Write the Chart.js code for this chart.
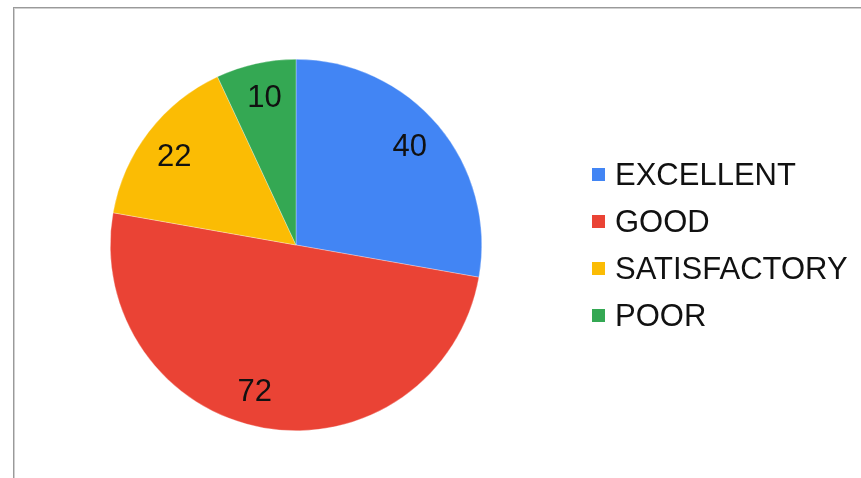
<!DOCTYPE html>
<html>
<head>
<meta charset="utf-8">
<script src="https://cdn.jsdelivr.net/npm/chart.js@4/dist/chart.umd.min.js"></script>
<style>
  html, body { margin: 0; padding: 0; background: #fff; width: 861px; height: 478px; overflow: hidden; }
  #frame { position: absolute; left: 13px; top: 7px; width: 900px; height: 520px; border-left: 1px solid #9a9a9a; border-top: 1px solid #9a9a9a; box-shadow: inset 1px 1px 0 #d0d0d0; }
  #wrap { position: absolute; left: 0; top: 0; width: 861px; height: 478px; }
  #legend { position: absolute; left: 592px; top: 151px; font-family: "Liberation Sans", Arial, sans-serif; font-size: 31px; color: #111; }
  .row { height: 47px; display: flex; align-items: center; white-space: nowrap; }
  .sw { width: 13px; height: 13px; margin-right: 10px; flex: none; }
</style>
</head>
<body>
<div id="frame"></div>
<div id="wrap"><canvas id="c" width="861" height="478"></canvas></div>
<div id="legend"></div>
<script>
const categories = ["EXCELLENT", "GOOD", "SATISFACTORY", "POOR"];
const values = [40, 72, 22, 10];
const colors = ["#4285F4", "#EA4335", "#FBBC04", "#34A853"];
// small angular nudge (degrees) of each value label, styling only
const labelNudge = [-1.3, 5.8, -1.1, 0.5];

const sliceLabels = {
  id: 'sliceLabels',
  afterDatasetsDraw(chart) {
    const ctx = chart.ctx;
    const meta = chart.getDatasetMeta(0);
    ctx.save();
    ctx.font = '31px "Liberation Sans", Arial, sans-serif';
    ctx.fillStyle = '#111';
    ctx.textAlign = 'center';
    ctx.textBaseline = 'middle';
    meta.data.forEach((arc, i) => {
      const p = arc.getProps(['x', 'y', 'startAngle', 'endAngle', 'outerRadius'], true);
      const mid = (p.startAngle + p.endAngle) / 2 + labelNudge[i] * Math.PI / 180;
      const d = p.outerRadius * 0.815;
      ctx.fillText(String(chart.data.datasets[0].data[i]), p.x + Math.cos(mid) * d, p.y + Math.sin(mid) * d + 2);
    });
    ctx.restore();
  }
};

new Chart(document.getElementById('c'), {
  type: 'pie',
  data: {
    labels: categories,
    datasets: [{
      data: values,
      backgroundColor: colors,
      borderColor: 'rgba(255,255,255,0.6)',
      borderWidth: 0.5,
      hoverOffset: 0
    }]
  },
  options: {
    responsive: false,
    animation: false,
    layout: { padding: { left: 110, top: 59, right: 379, bottom: 47 } },
    plugins: { legend: { display: false }, tooltip: { enabled: false } }
  },
  plugins: [sliceLabels]
});

const leg = document.getElementById('legend');
categories.forEach((c, i) => {
  const r = document.createElement('div');
  r.className = 'row';
  const s = document.createElement('span');
  s.className = 'sw';
  s.style.background = colors[i];
  const t = document.createElement('span');
  t.textContent = c;
  r.appendChild(s); r.appendChild(t);
  leg.appendChild(r);
});
</script>
</body>
</html>
